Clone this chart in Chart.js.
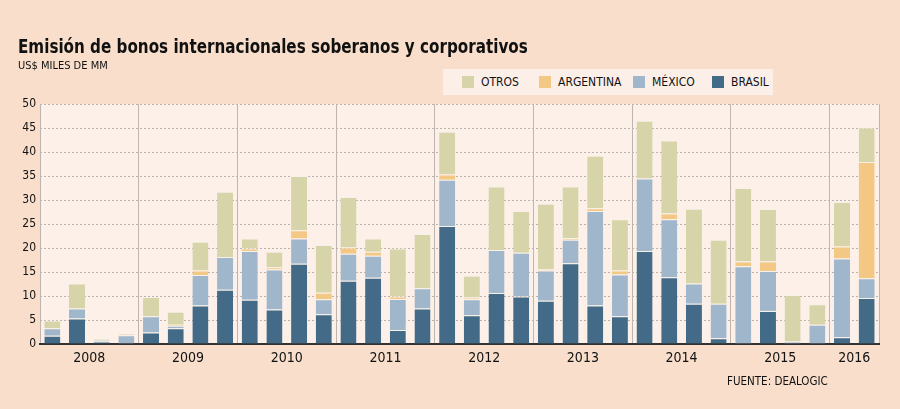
<!DOCTYPE html>
<html lang="es">
<head>
<meta charset="utf-8">
<script src="https://cdn.jsdelivr.net/npm/chart.js@4.4.1/dist/chart.umd.min.js"></script>
<style>
  body { margin: 0; background: #f9dfcb; }
  #wrap { position: relative; width: 900px; height: 409px; background: #f9dfcb; font-family: "DejaVu Sans Condensed", "DejaVu Sans", sans-serif; color: #111; }
  #chart { position: absolute; left: 0; top: 0; }
  .title { position: absolute; left: 18px; top: 35px; font-family: "DejaVu Sans Condensed", "DejaVu Sans", sans-serif; font-weight: bold; font-size: 19.5px; white-space: nowrap; transform: scaleX(0.865); transform-origin: 0 0; }
  .sub { position: absolute; left: 18px; top: 59px; font-size: 11px; white-space: nowrap; }
  .legend { position: absolute; left: 443px; top: 69px; width: 330px; height: 26px; background: #fcefe7; }
  .item { position: absolute; top: 0; height: 26px; line-height: 26px; font-size: 12px; white-space: nowrap; }
  .item span { display: inline-block; width: 12px; height: 12px; vertical-align: -2px; margin-right: 7px; }
  .source { position: absolute; left: 727px; top: 374px; font-size: 11.5px; white-space: nowrap; }
</style>
</head>
<body>
<div id="wrap">
  <canvas id="chart" width="900" height="409"></canvas>
  <div class="title">Emisión de bonos internacionales soberanos y corporativos</div>
  <div class="sub">US$ MILES DE MM</div>
  <div class="legend" id="legend"></div>
  <div class="source">FUENTE: DEALOGIC</div>
</div>
<script>
const years = ["2008", "2009", "2010", "2011", "2012", "2013", "2014", "2015", "2016"];
const quartersPerYear = [4, 4, 4, 4, 4, 4, 4, 4, 2];

// miles de millones de US$, por trimestre
const brasil = [1.7, 5.3, 0.5, 0, 2.4, 3.3, 8.0, 11.3, 9.2, 7.2, 16.7, 6.2, 13.2, 13.8, 2.9, 7.4,
  24.6, 6.0, 10.6, 9.9, 9.0, 16.8, 8.0, 5.8, 19.4, 13.9, 8.4, 1.2, 0, 6.9, 0, 0, 1.4, 9.6];
const mexico = [1.6, 2.1, 0.4, 1.8, 3.4, 0.5, 6.4, 6.8, 10.2, 8.3, 5.3, 3.1, 5.6, 4.6, 6.5, 4.2,
  9.6, 3.3, 9.0, 9.1, 6.3, 4.9, 19.7, 8.7, 15.1, 12.1, 4.2, 7.2, 16.2, 8.3, 0.5, 4.0, 16.4, 4.1];
const argentina = [0, 0, 0, 0, 0, 0.2, 0.9, 0, 0.5, 0.5, 1.7, 1.4, 1.3, 0.8, 0.5, 0,
  1.1, 0.4, 0, 0, 0.2, 0.4, 0.6, 0.8, 0, 1.2, 0, 0, 1.0, 2.0, 0, 0, 2.5, 24.2];
const otros = [1.6, 5.2, 0.2, 0.4, 4.0, 2.7, 6.0, 13.6, 2.1, 3.2, 11.3, 9.9, 10.5, 2.8, 10.0, 11.3,
  8.9, 4.5, 13.2, 8.7, 13.7, 10.7, 10.9, 10.7, 12.0, 15.2, 15.6, 13.3, 15.3, 10.9, 9.7, 4.3, 9.3, 7.2];

const yTicks = [0, 5, 10, 15, 20, 25, 30, 35, 40, 45, 50];

const colors = {
  brasil: "#436b88",
  mexico: "#a0b6cb",
  argentina: "#f3c784",
  otros: "#d7d4a9"
};

// etiquetas de trimestre; el año se pone en el trimestre central
const quarters = [];
const yearStarts = new Set();
const yearLabelAt = new Map();
let pos = 0;
years.forEach((y, i) => {
  yearStarts.add(pos);
  yearLabelAt.set(pos + quartersPerYear[i] / 2 - 1, y);
  for (let q = 1; q <= quartersPerYear[i]; q++) quarters.push(y + " T" + q);
  pos += quartersPerYear[i];
});

const series = [
  { label: "BRASIL", data: brasil, color: colors.brasil },
  { label: "MÉXICO", data: mexico, color: colors.mexico },
  { label: "ARGENTINA", data: argentina, color: colors.argentina },
  { label: "OTROS", data: otros, color: colors.otros }
];

// leyenda en html, mismo orden que el original
const legendPos = { OTROS: 19, ARGENTINA: 96, "MÉXICO": 190, BRASIL: 269 };
const legendEl = document.getElementById("legend");
series.slice().reverse().forEach(s => {
  const d = document.createElement("div");
  d.className = "item";
  d.style.left = legendPos[s.label] + "px";
  d.innerHTML = '<span style="background:' + s.color + '"></span>' + s.label;
  legendEl.appendChild(d);
});

const plotBg = {
  id: "plotBg",
  beforeDraw(chart) {
    const { ctx, chartArea: a } = chart;
    ctx.save();
    ctx.fillStyle = "#fcf0e8";
    ctx.fillRect(a.left, a.top, a.right - a.left, a.bottom - a.top);
    ctx.restore();
  }
};

const fontFamily = "'DejaVu Sans Condensed', 'DejaVu Sans', sans-serif";
const plotWidth = 900 - 21 - 40;

new Chart(document.getElementById("chart"), {
  type: "bar",
  data: {
    labels: quarters,
    datasets: series.map(s => ({
      label: s.label,
      data: s.data,
      backgroundColor: s.color,
      borderColor: "#f6f1ea",
      borderWidth: { top: 1, left: 0, right: 0, bottom: 0 },
      borderSkipped: "bottom",
      barPercentage: 0.65,
      categoryPercentage: 1
    }))
  },
  options: {
    responsive: false,
    animation: false,
    layout: { padding: { top: 104, right: 21, bottom: 0, left: 0 } },
    plugins: {
      legend: { display: false },
      tooltip: { enabled: false }
    },
    scales: {
      x: {
        stacked: true,
        ticks: {
          autoSkip: false,
          maxRotation: 0,
          padding: 6,
          color: "#111",
          font: { family: fontFamily, size: 14 },
          labelOffset: plotWidth / quarters.length / 2,
          callback: (v, i) => yearLabelAt.get(i) || ""
        },
        grid: {
          offset: true,
          drawTicks: false,
          lineWidth: 1,
          color: ctx => (ctx.index === undefined || yearStarts.has(ctx.index)) ? "#bdb5ae" : "rgba(0,0,0,0)"
        },
        border: { display: true, color: "#333", width: 2 },
        afterFit: s => { s.height = 65; }
      },
      y: {
        stacked: true,
        min: 0,
        max: 50,
        afterBuildTicks: s => { s.ticks = yTicks.map(v => ({ value: v })); },
        ticks: { padding: 4, color: "#111", font: { family: fontFamily, size: 12 } },
        grid: { drawTicks: false, color: "#bbb3ac", lineWidth: 1 },
        border: { display: false, dash: [2, 2] },
        afterFit: s => { s.width = 40; }
      }
    }
  },
  plugins: [plotBg]
});
</script>
</body>
</html>
